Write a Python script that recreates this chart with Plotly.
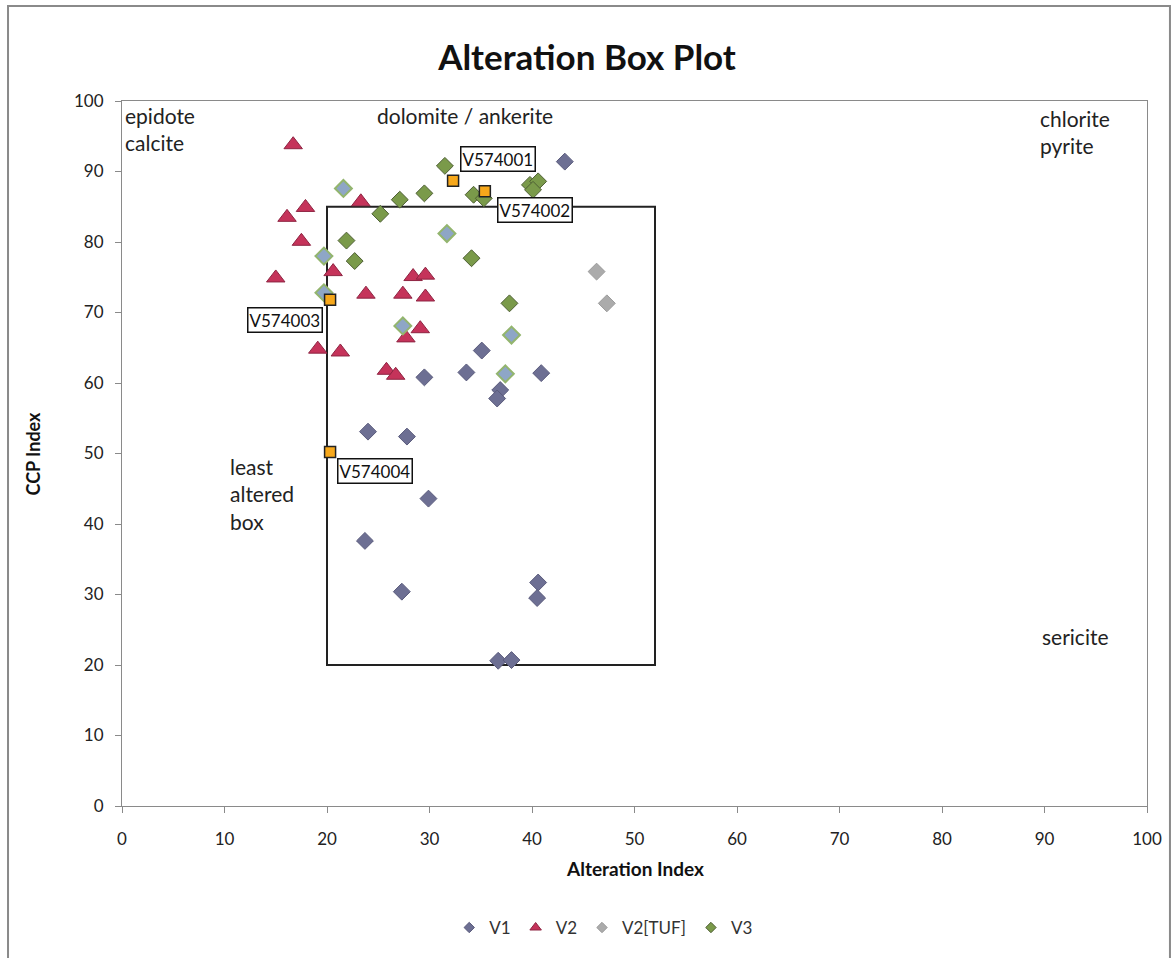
import plotly.graph_objects as go

# Alteration index (x) and CCP index (y) for each volcanic unit
v1_x = [35.1, 29.5, 33.6, 40.9, 36.9, 36.6, 27.8, 24.0, 29.9, 23.7, 27.3, 40.6, 40.5, 36.7, 38.0, 43.2]
v1_y = [64.6, 60.8, 61.5, 61.4, 59.0, 57.8, 52.4, 53.1, 43.6, 37.6, 30.4, 31.7, 29.5, 20.6, 20.7, 91.4]

v2_x = [16.7, 16.1, 17.9, 17.5, 15.0, 20.6, 23.3, 23.8, 27.4, 28.4, 29.6, 29.6, 29.1, 27.7, 19.1, 21.3, 25.8, 26.7]
v2_y = [93.8, 83.5, 84.9, 80.1, 74.9, 75.8, 85.7, 72.6, 72.6, 75.1, 75.3, 72.2, 67.7, 66.4, 64.8, 64.4, 61.8, 61.1]

v2tuf_x = [46.3, 47.3]
v2tuf_y = [75.8, 71.3]

v2tuf_blue_x = [21.6, 31.7, 27.4, 38.0, 37.4, 19.7, 19.7]
v2tuf_blue_y = [87.6, 81.2, 68.1, 66.8, 61.3, 78.0, 72.8]

v3_x = [31.5, 29.5, 27.1, 25.2, 34.3, 35.3, 39.8, 40.6, 40.1, 21.9, 22.7, 34.1, 37.8]
v3_y = [90.8, 86.9, 86.0, 84.0, 86.7, 86.2, 88.1, 88.6, 87.4, 80.2, 77.3, 77.7, 71.3]

# Labelled samples
sample_names = ["V574001", "V574002", "V574003", "V574004"]
sample_x = [32.3, 35.4, 20.3, 20.3]
sample_y = [88.7, 87.2, 71.8, 50.2]

# Least altered box limits
box_x = [20, 52]
box_y = [20, 85]

FONT = "Lato, Open Sans, sans-serif"

V1_STYLE = dict(color="#6D6F93", line=dict(color="#5A5B7C", width=1))
V2_STYLE = dict(color="#C5335A", line=dict(color="#8E2442", width=1))
TUF_STYLE = dict(color="#ABABAB", line=dict(color="#9A9A9A", width=1))
V3_STYLE = dict(color="#7A9A4A", line=dict(color="#4E5F34", width=1))

fig = go.Figure()

fig.add_trace(go.Scatter(
    x=v1_x, y=v1_y, mode="markers", name="V1", legendgroup="v1", showlegend=False,
    marker=dict(symbol="diamond", size=13, **V1_STYLE),
))
fig.add_trace(go.Scatter(
    x=v2_x, y=v2_y, mode="markers", name="V2", legendgroup="v2", showlegend=False,
    marker=dict(symbol="triangle-up", size=16, **V2_STYLE),
))
fig.add_trace(go.Scatter(
    x=v2tuf_x, y=v2tuf_y, mode="markers", name="V2[TUF]", legendgroup="tuf",
    showlegend=False,
    marker=dict(symbol="diamond", size=13, **TUF_STYLE),
))
fig.add_trace(go.Scatter(
    x=v2tuf_blue_x, y=v2tuf_blue_y, mode="markers", name="V2[TUF]",
    legendgroup="tuf", showlegend=False,
    marker=dict(symbol="diamond", size=13, color="#8EA6C6",
                line=dict(color="#93B56E", width=2)),
))
fig.add_trace(go.Scatter(
    x=v3_x, y=v3_y, mode="markers", name="V3", legendgroup="v3", showlegend=False,
    marker=dict(symbol="diamond", size=13, **V3_STYLE),
))

# Small legend keys
for name, group, symbol, size, style in [
    ("V1", "v1", "diamond", 8, V1_STYLE),
    ("V2", "v2", "triangle-up", 10, V2_STYLE),
    ("V2[TUF]", "tuf", "diamond", 8, TUF_STYLE),
    ("V3", "v3", "diamond", 8, V3_STYLE),
]:
    fig.add_trace(go.Scatter(
        x=[None], y=[None], mode="markers", name=name, legendgroup=group,
        marker=dict(symbol=symbol, size=size, **style),
    ))

# Least altered box outline
fig.add_shape(type="rect", x0=box_x[0], x1=box_x[1], y0=box_y[0], y1=box_y[1],
              line=dict(color="#222222", width=2), fillcolor="rgba(0,0,0,0)",
              layer="below")

fig.add_trace(go.Scatter(
    x=sample_x, y=sample_y, mode="markers", showlegend=False, name="samples",
    marker=dict(symbol="square", size=11, color="#F7A81B",
                line=dict(color="#222222", width=1.5)),
))

# Sample call-outs
offsets = [
    dict(xanchor="left", yanchor="bottom", xshift=7, yshift=9),
    dict(xanchor="left", yanchor="top", xshift=12, yshift=-6),
    dict(xanchor="right", yanchor="top", xshift=-7, yshift=-7),
    dict(xanchor="left", yanchor="top", xshift=7, yshift=-6),
]
for name, sx, sy, off in zip(sample_names, sample_x, sample_y, offsets):
    fig.add_annotation(x=sx, y=sy, text=name, showarrow=False,
                       font=dict(family=FONT, size=17, color="#111111"),
                       bgcolor="white", bordercolor="#111111", borderwidth=1.5,
                       borderpad=1, **off)

# Mineral field labels
field_font = dict(family=FONT, size=21, color="#222222")
fig.add_annotation(x=0.0, y=100, xref="x", yref="y", text="epidote<br>calcite",
                   showarrow=False, xanchor="left", yanchor="top", align="left",
                   xshift=1, font=field_font)
fig.add_annotation(x=24.7, y=100, xref="x", yref="y", text="dolomite / ankerite",
                   showarrow=False, xanchor="left", yanchor="top", align="left",
                   font=field_font)
fig.add_annotation(x=89.4, y=100, xref="x", yref="y", text="chlorite<br>pyrite",
                   showarrow=False, xanchor="left", yanchor="top", align="left",
                   yshift=-3, font=field_font)
fig.add_annotation(x=89.6, y=24.1, xref="x", yref="y", text="sericite",
                   showarrow=False, xanchor="left", yanchor="middle", align="left",
                   font=field_font)
fig.add_annotation(x=10.3, y=50.2, xref="x", yref="y", text="least<br>altered<br>box",
                   showarrow=False, xanchor="left", yanchor="top", align="left",
                   font=field_font)

# Axis titles
fig.add_annotation(x=0, y=0.5, xref="paper", yref="paper", text="<b>CCP Index</b>",
                   showarrow=False, textangle=-90, xanchor="center", yanchor="middle",
                   xshift=-90, font=dict(family=FONT, size=18, color="#111111"))
fig.add_annotation(x=0.5, y=0, xref="paper", yref="paper", text="<b>Alteration Index</b>",
                   showarrow=False, xanchor="center", yanchor="middle",
                   yshift=-62, font=dict(family=FONT, size=19, color="#111111"))

# Outer chart frame
fig.add_shape(type="rect", xref="paper", yref="paper",
              x0=-0.1112, x1=1.0224, y0=-0.23, y1=1.1348,
              line=dict(color="#8A8A8A", width=2), fillcolor="rgba(0,0,0,0)")

fig.update_layout(
    width=1174, height=958,
    margin=dict(l=122, r=27, t=101, b=152),
    paper_bgcolor="white", plot_bgcolor="white",
    title=dict(text="<b>Alteration Box Plot</b>", x=0.5, xanchor="center",
               y=1 - 58 / 958, yanchor="middle",
               font=dict(family=FONT, size=35, color="#111111")),
    xaxis=dict(range=[0, 100], dtick=10, showgrid=False, zeroline=False,
               showline=True, linecolor="#8A8A8A", linewidth=1, mirror=True,
               ticks="outside", ticklen=6, tickcolor="#8A8A8A",
               ticklabelstandoff=12,
               tickfont=dict(family=FONT, size=17, color="#222222")),
    yaxis=dict(range=[0, 100], dtick=10, showgrid=False, zeroline=False,
               showline=True, linecolor="#8A8A8A", linewidth=1, mirror=True,
               ticks="outside", ticklen=6, tickcolor="#8A8A8A",
               ticklabelstandoff=8,
               tickfont=dict(family=FONT, size=17, color="#222222")),
    legend=dict(orientation="h", x=0.47, xanchor="center", y=-0.173, yanchor="middle",
                font=dict(family=FONT, size=17, color="#333333"),
                itemsizing="trace", itemwidth=30, tracegroupgap=0),
)

fig.write_html("out.html")
